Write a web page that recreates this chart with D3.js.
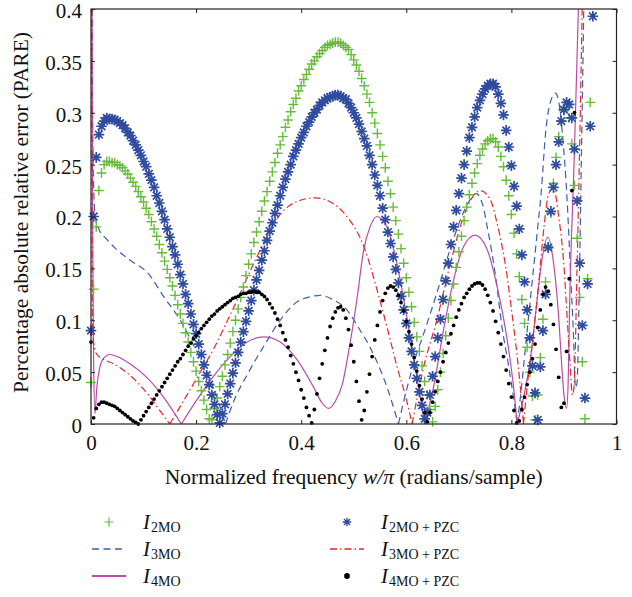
<!DOCTYPE html>
<html>
<head>
<meta charset="utf-8">
<script src="https://cdn.jsdelivr.net/npm/d3@7"></script>
<style>
  body { margin: 0; background: #fff; }
  text { font-family: "Liberation Serif", "DejaVu Serif", serif; fill: #111; }
</style>
</head>
<body>
<div id="chart"></div>
<script>
// sampled on a uniform frequency grid, step 0.005 (w/pi)
const freqStep = 0.005;

// I2MO (green +)
const i2mo = [
  0.04, 0.13, 0.19, 0.225, 0.242, 0.25, 0.253, 0.253, 0.252, 0.252,
  0.250, 0.249, 0.247, 0.244, 0.241, 0.237, 0.233, 0.229, 0.224, 0.219,
  0.214, 0.208, 0.202, 0.195, 0.188, 0.181, 0.173, 0.165, 0.157, 0.149,
  0.141, 0.133, 0.124, 0.115, 0.106, 0.097, 0.088, 0.079, 0.069, 0.060,
  0.051, 0.041, 0.032, 0.023, 0.014, 0.005, 0.004, 0.015, 0.025, 0.036,
  0.046, 0.057, 0.067, 0.078, 0.089, 0.100, 0.111, 0.122, 0.132, 0.143,
  0.154, 0.164, 0.175, 0.185, 0.195, 0.205, 0.215, 0.224, 0.234, 0.243,
  0.252, 0.261, 0.269, 0.277, 0.286, 0.293, 0.301, 0.308, 0.314, 0.321,
  0.326, 0.332, 0.337, 0.342, 0.347, 0.350, 0.354, 0.357, 0.360, 0.363,
  0.365, 0.366, 0.367, 0.368, 0.368, 0.367, 0.365, 0.363, 0.361, 0.356,
  0.351, 0.346, 0.340, 0.333, 0.326, 0.318, 0.310, 0.300, 0.290, 0.280,
  0.269, 0.258, 0.247, 0.234, 0.222, 0.209, 0.196, 0.183, 0.169, 0.155,
  0.141, 0.127, 0.113, 0.098, 0.084, 0.070, 0.056, 0.041, 0.028, 0.014,
  0.002, 0.017, 0.033, 0.050, 0.068, 0.085, 0.102, 0.119, 0.135, 0.151,
  0.166, 0.181, 0.196, 0.209, 0.221, 0.232, 0.242, 0.251, 0.259, 0.265,
  0.270, 0.273, 0.275, 0.275, 0.272, 0.267, 0.258, 0.248, 0.235, 0.220,
  0.202, 0.184, 0.164, 0.142, 0.120, 0.097, 0.074, 0.050, 0.027, 0.004,
  0.028, 0.064, 0.101, 0.137, 0.171, 0.203, 0.232, 0.257, 0.277, 0.292,
  0.302, 0.305, 0.295, 0.270, 0.230, 0.179, 0.122, 0.060, 0.005, 0.14,
  0.31
];

// I2MO + PZC (blue *)
const i2moPzc = [
  0.09, 0.20, 0.257, 0.279, 0.287, 0.292, 0.295, 0.294, 0.294, 0.293,
  0.292, 0.290, 0.288, 0.285, 0.281, 0.278, 0.273, 0.269, 0.264, 0.259,
  0.253, 0.248, 0.241, 0.235, 0.228, 0.220, 0.213, 0.205, 0.197, 0.188,
  0.180, 0.171, 0.163, 0.154, 0.144, 0.135, 0.125, 0.116, 0.106, 0.096,
  0.087, 0.077, 0.067, 0.057, 0.047, 0.038, 0.028, 0.019, 0.009, 0.001,
  0.010, 0.019, 0.029, 0.039, 0.049, 0.059, 0.069, 0.079, 0.089, 0.099,
  0.109, 0.119, 0.129, 0.139, 0.148, 0.158, 0.167, 0.177, 0.186, 0.194,
  0.203, 0.211, 0.220, 0.228, 0.236, 0.243, 0.250, 0.258, 0.264, 0.270,
  0.276, 0.281, 0.287, 0.291, 0.296, 0.300, 0.303, 0.307, 0.310, 0.312,
  0.314, 0.315, 0.316, 0.317, 0.317, 0.316, 0.314, 0.313, 0.309, 0.305,
  0.300, 0.295, 0.289, 0.282, 0.275, 0.268, 0.259, 0.250, 0.240, 0.230,
  0.220, 0.208, 0.197, 0.185, 0.174, 0.161, 0.149, 0.136, 0.123, 0.110,
  0.097, 0.083, 0.070, 0.057, 0.044, 0.031, 0.018, 0.005, 0.011, 0.028,
  0.046, 0.065, 0.083, 0.101, 0.120, 0.138, 0.155, 0.173, 0.190, 0.206,
  0.222, 0.237, 0.250, 0.263, 0.276, 0.286, 0.296, 0.305, 0.312, 0.318,
  0.323, 0.326, 0.328, 0.328, 0.325, 0.318, 0.309, 0.298, 0.283, 0.267,
  0.249, 0.229, 0.210, 0.188, 0.163, 0.137, 0.110, 0.083, 0.056, 0.030,
  0.004, 0.055, 0.090, 0.125, 0.170, 0.205, 0.228, 0.250, 0.272, 0.292,
  0.303, 0.310, 0.308, 0.295, 0.265, 0.215, 0.155, 0.095, 0.025, 0.135,
  0.287, 0.393
];

// I4MO + PZC (black dots)
const i4moPzc = [
  0.079, 0.006, 0.015, 0.019, 0.021, 0.021, 0.020, 0.019, 0.018, 0.017,
  0.015, 0.013, 0.011, 0.009, 0.007, 0.005, 0.003, 0.0015, 0.000, 0.004,
  0.008, 0.012, 0.016, 0.020, 0.024, 0.028, 0.032, 0.036, 0.040, 0.044,
  0.048, 0.052, 0.056, 0.060, 0.063, 0.067, 0.071, 0.075, 0.078, 0.082,
  0.085, 0.088, 0.092, 0.095, 0.098, 0.101, 0.104, 0.106, 0.109, 0.111,
  0.113, 0.115, 0.117, 0.119, 0.121, 0.122, 0.123, 0.125, 0.126, 0.126,
  0.127, 0.127, 0.128, 0.127, 0.127, 0.125, 0.123, 0.120, 0.116, 0.112,
  0.107, 0.101, 0.095, 0.088, 0.081, 0.074, 0.066, 0.058, 0.050, 0.042,
  0.033, 0.025, 0.016, 0.008, 0.001, 0.014, 0.029, 0.044, 0.058, 0.071,
  0.083, 0.094, 0.102, 0.108, 0.112, 0.113, 0.110, 0.102, 0.091, 0.076,
  0.060, 0.041, 0.022, 0.004, 0.013, 0.031, 0.048, 0.065, 0.081, 0.095,
  0.108, 0.119, 0.126, 0.131, 0.133, 0.132, 0.129, 0.124, 0.117, 0.109,
  0.099, 0.089, 0.077, 0.064, 0.051, 0.037, 0.024, 0.011, 0.002, 0.011,
  0.021, 0.031, 0.041, 0.050, 0.060, 0.069, 0.078, 0.087, 0.095, 0.103,
  0.110, 0.116, 0.122, 0.126, 0.130, 0.133, 0.135, 0.136, 0.136, 0.134,
  0.130, 0.124, 0.117, 0.109, 0.099, 0.088, 0.077, 0.065, 0.052, 0.039,
  0.026, 0.013, 0.001, 0.003, 0.014, 0.026, 0.038, 0.050, 0.063, 0.077,
  0.093, 0.110, 0.125, 0.132, 0.128, 0.115, 0.096, 0.072, 0.045, 0.016,
  0.020, 0.070, 0.140, 0.225, 0.300
];

// line series: [w/pi, PARE] knots, zeros split the arcs
const i3mo = [
  [0.0015, 0.6], [0.003, 0.3], [0.005, 0.23], [0.008, 0.2], [0.014, 0.189], [0.03, 0.178],
  [0.045, 0.17], [0.074, 0.158], [0.109, 0.145], [0.138, 0.123], [0.17, 0.1],
  [0.198, 0.073], [0.225, 0.045], [0.242, 0.022], [0.256, 0],
  [0.27, 0.02], [0.3, 0.05], [0.33, 0.076], [0.36, 0.1], [0.39, 0.117], [0.42, 0.123],
  [0.437, 0.124], [0.46, 0.12], [0.487, 0.11], [0.51, 0.092], [0.531, 0.074],
  [0.55, 0.053], [0.565, 0.033], [0.585, 0],
  [0.6, 0.032], [0.615, 0.06], [0.633, 0.087], [0.658, 0.126], [0.68, 0.163],
  [0.703, 0.197], [0.72, 0.215], [0.733, 0.222], [0.745, 0.212], [0.754, 0.19],
  [0.77, 0.142], [0.782, 0.094], [0.795, 0.055], [0.805, 0.022], [0.811, 0],
  [0.818, 0.03], [0.827, 0.075], [0.836, 0.12], [0.849, 0.184], [0.857, 0.225],
  [0.865, 0.28], [0.874, 0.31], [0.884, 0.319], [0.891, 0.308], [0.897, 0.28],
  [0.906, 0.216], [0.912, 0.152], [0.918, 0.087], [0.922, 0.035], [0.925, 0.04],
  [0.929, 0.13], [0.933, 0.25], [0.938, 0.41], [0.942, 0.55]
];

const i3moPzc = [
  [0.001, 0.6], [0.002, 0.2], [0.003, 0.088], [0.01, 0.068], [0.025, 0.062],
  [0.043, 0.058], [0.074, 0.047], [0.106, 0.03], [0.128, 0.015], [0.15, 0],
  [0.2, 0.043], [0.236, 0.075], [0.26, 0.1], [0.284, 0.126], [0.31, 0.155],
  [0.335, 0.181], [0.36, 0.202], [0.39, 0.214], [0.427, 0.218], [0.465, 0.211],
  [0.487, 0.2], [0.52, 0.17], [0.545, 0.128], [0.565, 0.09], [0.583, 0.054],
  [0.6, 0.024], [0.611, 0],
  [0.633, 0.055], [0.658, 0.1], [0.684, 0.155], [0.709, 0.2], [0.725, 0.218],
  [0.741, 0.225], [0.76, 0.216], [0.773, 0.193], [0.789, 0.152], [0.801, 0.107],
  [0.811, 0.065], [0.818, 0.03], [0.823, 0],
  [0.83, 0.036], [0.842, 0.087], [0.852, 0.136], [0.862, 0.19], [0.871, 0.222],
  [0.88, 0.227], [0.89, 0.2], [0.9, 0.152], [0.906, 0.103], [0.912, 0.055],
  [0.916, 0.028], [0.919, 0.035], [0.925, 0.152], [0.93, 0.27], [0.935, 0.41], [0.94, 0.55]
];

const i4mo = [
  [0.001, 0.6], [0.003, 0.2], [0.005, 0.06], [0.0075, 0.01], [0.011, 0.035],
  [0.017, 0.055], [0.025, 0.064], [0.036, 0.067], [0.05, 0.065], [0.074, 0.058],
  [0.106, 0.045], [0.138, 0.026], [0.172, 0],
  [0.201, 0.023], [0.233, 0.046], [0.265, 0.065], [0.297, 0.079], [0.328, 0.084],
  [0.36, 0.079], [0.392, 0.062], [0.423, 0.036], [0.44, 0.02], [0.452, 0.015],
  [0.465, 0.022], [0.478, 0.038], [0.492, 0.075], [0.506, 0.12], [0.519, 0.168],
  [0.531, 0.19], [0.544, 0.2], [0.563, 0.19], [0.582, 0.155], [0.601, 0.103],
  [0.62, 0.046], [0.635, 0],
  [0.652, 0.036], [0.671, 0.091], [0.69, 0.139], [0.709, 0.171], [0.731, 0.182],
  [0.754, 0.168], [0.773, 0.132], [0.792, 0.081], [0.804, 0.036], [0.811, 0],
  [0.825, 0.03], [0.836, 0.062], [0.849, 0.12], [0.858, 0.158], [0.869, 0.18],
  [0.881, 0.152], [0.89, 0.103], [0.896, 0.055], [0.9, 0.028], [0.905, 0.015],
  [0.908, 0.04], [0.911, 0.12], [0.919, 0.248], [0.928, 0.41], [0.932, 0.5]
];

const xTicks = [0, 0.2, 0.4, 0.6, 0.8, 1];
const yTicks = [0, 0.05, 0.1, 0.15, 0.2, 0.25, 0.3, 0.35, 0.4];

const width = 632, height = 597;
const plot = { left: 91, right: 616.5, top: 9, bottom: 424 };

const colors = {
  green: "#67bb3c",
  blue: "#2f4c9e",
  dash: "#3b5eae",
  red: "#e8262c",
  magenta: "#bc4aa6",
  black: "#000"
};

const svg = d3.select("#chart").append("svg")
  .attr("width", width)
  .attr("height", height);

const x = d3.scaleLinear().domain([0, 1]).range([plot.left, plot.right]);
const y = d3.scaleLinear().domain([0, 0.4]).range([plot.bottom, plot.top]);

svg.append("defs").append("clipPath").attr("id", "clip")
  .append("rect")
  .attr("x", plot.left).attr("y", plot.top)
  .attr("width", plot.right - plot.left).attr("height", plot.bottom - plot.top);

// marker shapes
const plusPath = "M-4.9,0H4.9M0,-4.9V4.9";
const starPath = "M-5.3,0H5.3M0,-5.3V5.3M-3.8,-3.8L3.8,3.8M-3.8,3.8L3.8,-3.8";

function toPoints(vals) {
  return vals.map((v, i) => [i * freqStep, v]).filter(d => d[1] <= 0.4);
}

// split knots into arcs at the zeros so the V cusps stay sharp
function splitArcs(knots) {
  const out = [];
  let cur = [];
  knots.forEach(p => {
    cur.push(p);
    if (p[1] === 0 && cur.length > 1) { out.push(cur); cur = [p]; }
  });
  if (cur.length > 1) out.push(cur);
  return out;
}

const lineGen = d3.line()
  .x(d => x(d[0]))
  .y(d => y(d[1]))
  .curve(d3.curveMonotoneX);

const g = svg.append("g");
const linesG = g.append("g").attr("clip-path", "url(#clip)");

function drawMarkers(vals, path, color, sw) {
  g.append("g").selectAll("path")
    .data(toPoints(vals))
    .enter().append("path")
    .attr("d", path)
    .attr("transform", d => `translate(${x(d[0])},${y(d[1])})`)
    .attr("fill", "none")
    .attr("stroke", color)
    .attr("stroke-width", sw);
}

function drawLine(knots, color, dash) {
  linesG.append("path")
    .attr("d", splitArcs(knots).map(a => lineGen(a)).join(""))
    .attr("fill", "none")
    .attr("stroke", color)
    .attr("stroke-width", 1.2)
    .attr("stroke-dasharray", dash);
}

// same order as the legend
drawMarkers(i2mo, plusPath, colors.green, 1.4);
drawLine(i3mo, colors.dash, "7,4.5");
drawLine(i4mo, colors.magenta, null);
drawMarkers(i2moPzc, starPath, colors.blue, 1.7);
drawLine(i3moPzc, colors.red, "7,3,1.5,3");

g.append("g").selectAll("circle")
  .data(toPoints(i4moPzc))
  .enter().append("circle")
  .attr("cx", d => x(d[0]))
  .attr("cy", d => y(d[1]))
  .attr("r", 1.9)
  .attr("fill", colors.black);

// axes, ticks pointing inward on all four sides
const fmt = d3.format("~g");
const axisB = svg.append("g").attr("transform", `translate(0,${plot.bottom})`)
  .call(d3.axisBottom(x).tickValues(xTicks).tickFormat(fmt).tickSizeInner(-4).tickSizeOuter(0).tickPadding(12));
const axisT = svg.append("g").attr("transform", `translate(0,${plot.top})`)
  .call(d3.axisTop(x).tickValues(xTicks).tickFormat("").tickSizeInner(-4).tickSizeOuter(0));
const axisL = svg.append("g").attr("transform", `translate(${plot.left},0)`)
  .call(d3.axisLeft(y).tickValues(yTicks).tickFormat(fmt).tickSizeInner(-4).tickSizeOuter(0).tickPadding(9));
const axisR = svg.append("g").attr("transform", `translate(${plot.right},0)`)
  .call(d3.axisRight(y).tickValues(yTicks).tickFormat("").tickSizeInner(-4).tickSizeOuter(0));

[axisB, axisT, axisL, axisR].forEach(a => {
  a.select(".domain").remove();
  a.selectAll(".tick line").attr("stroke", "#222");
  a.selectAll("text").attr("font-size", 21).attr("fill", "#111")
    .style("font-family", '"Liberation Serif", serif');
});
axisB.selectAll("text").attr("dy", "0.66em");
axisL.selectAll("text").attr("dy", "0.4em");

svg.append("rect")
  .attr("x", plot.left).attr("y", plot.top)
  .attr("width", plot.right - plot.left).attr("height", plot.bottom - plot.top)
  .attr("fill", "none").attr("stroke", "#222").attr("stroke-width", 1.2);

// axis titles
const xt = svg.append("text")
  .attr("x", (plot.left + plot.right) / 2).attr("y", 484)
  .attr("text-anchor", "middle").attr("font-size", 21.5);
xt.append("tspan").text("Normalized frequency ");
xt.append("tspan").attr("font-style", "italic").text("w/π");
xt.append("tspan").text(" (radians/sample)");

svg.append("text")
  .attr("transform", `translate(28,${(plot.top + plot.bottom) / 2 - 4}) rotate(-90)`)
  .attr("text-anchor", "middle").attr("font-size", 21.5)
  .text("Percentage absolute relative error (PARE)");

// legend
const legendRows = [
  { col: 0, row: 0, sub: "2MO", kind: "plus" },
  { col: 0, row: 1, sub: "3MO", kind: "dash" },
  { col: 0, row: 2, sub: "4MO", kind: "solid" },
  { col: 1, row: 0, sub: "2MO + PZC", kind: "star" },
  { col: 1, row: 1, sub: "3MO + PZC", kind: "dashdot" },
  { col: 1, row: 2, sub: "4MO + PZC", kind: "dot" }
];
const colX = [92, 330];
const rowY = [522, 549, 576];

legendRows.forEach(d => {
  const x0 = colX[d.col], cy = rowY[d.row];
  const lg = svg.append("g");
  if (d.kind === "plus") {
    lg.append("path").attr("d", plusPath).attr("transform", `translate(${x0 + 17},${cy}) scale(0.9)`)
      .attr("stroke", colors.green).attr("stroke-width", 1.3).attr("fill", "none");
  } else if (d.kind === "star") {
    lg.append("path").attr("d", starPath).attr("transform", `translate(${x0 + 17},${cy}) scale(0.8)`)
      .attr("stroke", colors.blue).attr("stroke-width", 1.7).attr("fill", "none");
  } else if (d.kind === "dot") {
    lg.append("circle").attr("cx", x0 + 17).attr("cy", cy).attr("r", 2.9).attr("fill", "#000");
  } else {
    const c = d.kind === "dash" ? colors.dash : d.kind === "solid" ? colors.magenta : colors.red;
    const da = d.kind === "dash" ? "7,4.5" : d.kind === "dashdot" ? "7,3,1.5,3" : null;
    lg.append("line").attr("x1", x0).attr("x2", x0 + 34).attr("y1", cy).attr("y2", cy)
      .attr("stroke", c).attr("stroke-width", d.kind === "solid" ? 2 : 1.4)
      .attr("stroke-dasharray", da);
  }
  const t = lg.append("text").attr("x", x0 + 51).attr("y", cy + 7).attr("font-size", 21);
  t.append("tspan").attr("font-style", "italic").text("I");
  t.append("tspan").attr("font-size", 14).attr("dy", 3).attr("dx", 1).text(d.sub);
});
</script>
</body>
</html>
